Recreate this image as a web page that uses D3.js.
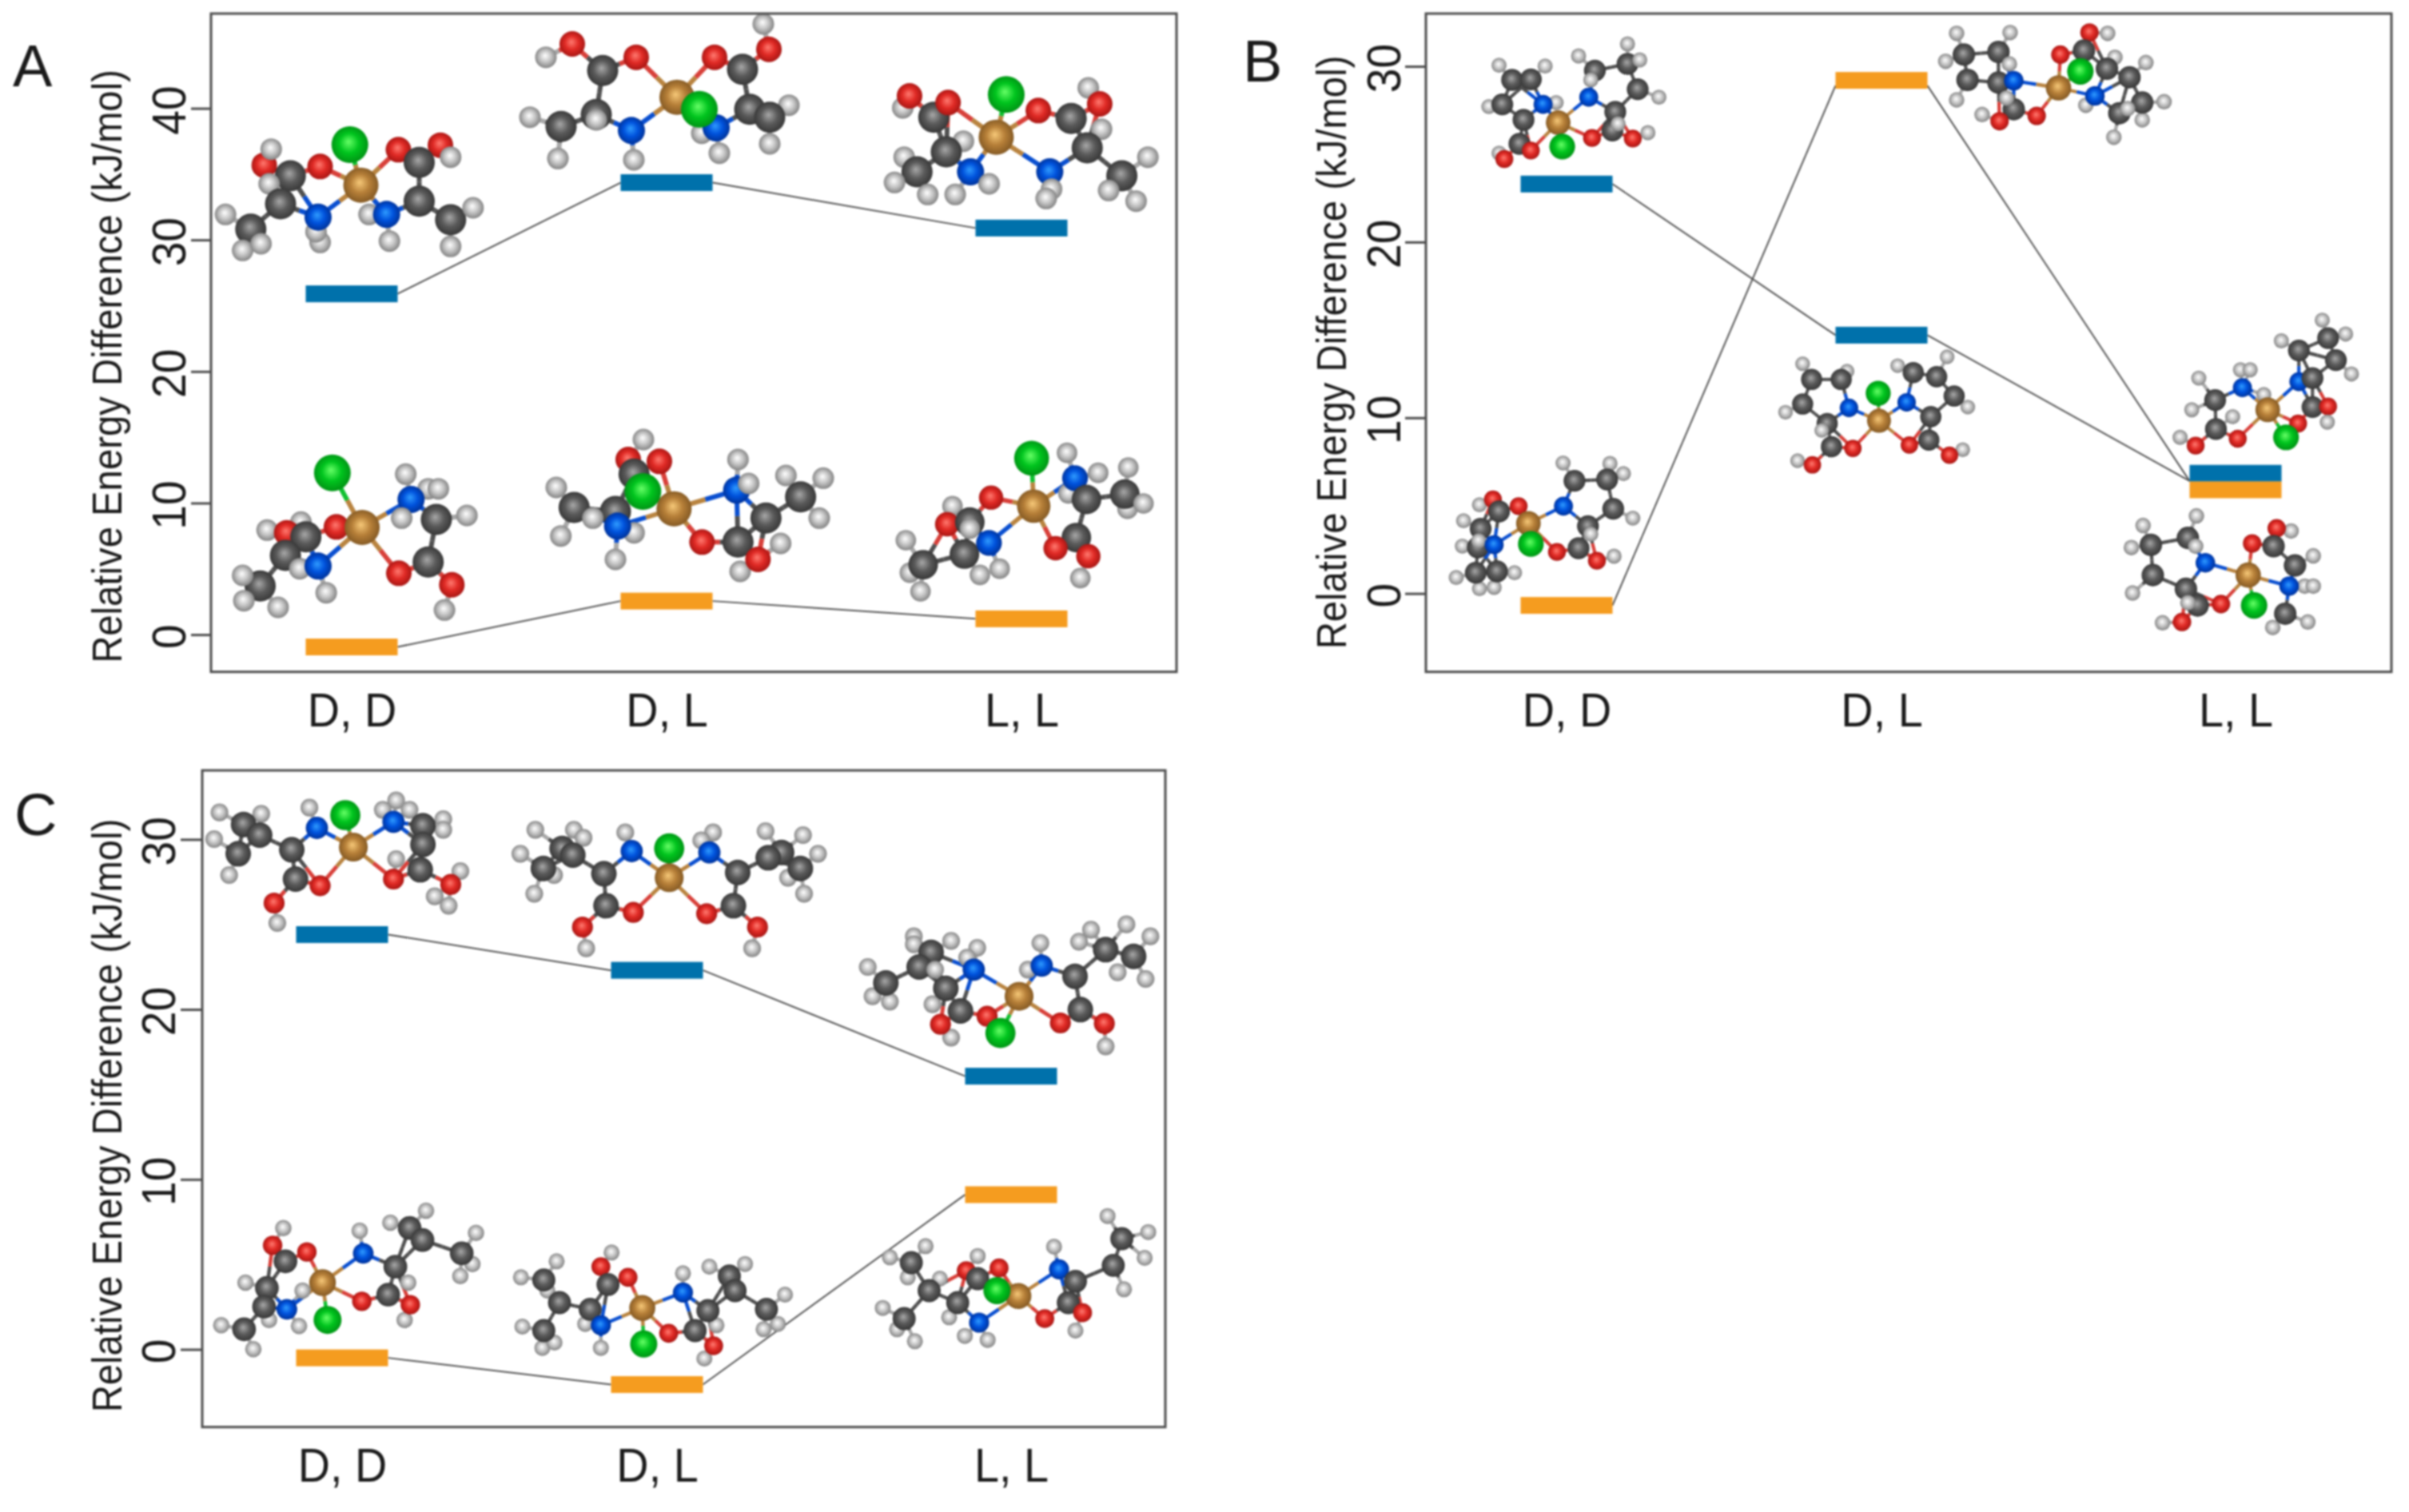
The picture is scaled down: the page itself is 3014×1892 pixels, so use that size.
<!DOCTYPE html>
<html><head><meta charset="utf-8">
<script src="https://cdn.jsdelivr.net/npm/d3@7"></script>
<style>html,body{margin:0;background:#fff}svg{display:block;filter:blur(0.8px)}text{font-family:"Liberation Sans",Arial,sans-serif;fill:#1a1a1a}</style>
</head><body><svg id="c" width="3014" height="1892"></svg>
<script>
// ---- values (kJ/mol) ----
const categories = ["D, D", "D, L", "L, L"];
const yTitle = "Relative Energy Difference (kJ/mol)";
const ticksA = [0, 10, 20, 30, 40];
const ticksB = [0, 10, 20, 30];
const ticksC = [0, 10, 20, 30];
const blueA = [25.9, 34.35, 30.9];
const orangeA = [-0.94, 2.55, 1.2];
const blueB = [23.3, 14.7, 6.84];
const orangeB = [-0.68, 29.2, 5.9];
const blueC = [24.4, 22.3, 16.07];
const orangeC = [-0.5, -2.07, 9.1];
// where the thin connectors of panel B really land on each level
const blueLinkB = [23.3, 14.7, 6.4];
const orangeLinkB = [-0.68, 28.9, 6.4];

// ---- layout ----
const layout = [
 {id:"A", l:264, t:17, r:1472, b:840.7, yDom:[-2.83,47.2], centres:[440,834,1278], ticks:ticksA, blue:blueA, orange:orangeA,
  titleX:152, titleY:458.5, tickBase:232, tickLen:25, letter:[16,108]},
 {id:"B", l:1784, t:17, r:2992, b:840.7, yDom:[-4.46,33], centres:[1960,2354,2797], ticks:ticksB, blue:blueB, orange:orangeB,
  blueLink:blueLinkB, orangeLink:orangeLinkB,
  titleX:1684, titleY:441, tickBase:1752, tickLen:26, letter:[1555,102]},
 {id:"C", l:253, t:964, r:1458, b:1785.7, yDom:[-4.57,34.06], centres:[428,822,1265], ticks:ticksC, blue:blueC, orange:orangeC,
  titleX:152, titleY:1396, tickBase:219, tickLen:27, letter:[18,1045]}
];
const barW = 115, barH = 21;
const blue = "#0071ab", orange = "#f59c1f";

// ---- molecule sketches: crop [x0,y0,sx,sy], atom size k, atoms back to front ----
const molecules = [
 {crop:[0,0,1.96,3],k:1,a:"O 648 620;H 665 560;C 712 660;H 660 690;C 688 765;O 785 625;O 977 562;O 1080 545;H 1105 590;C 1028 610;C 1028 755;H 553 805;C 615 860;H 595 940;H 640 915;H 785 910;H 775 870;N 780 815;H 905 805;N 948 805;H 955 905;C 1105 825;H 1160 780;H 1105 925;Cu 885 695;Cl 858 543"},
 {crop:[0,500,1.96,3],k:1,a:"H 995 280;H 1050 335;H 1075 335;N 1008 375;H 985 445;C 1070 450;H 1145 435;O 825 478;H 655 490;H 738 460;O 703 500;C 750 515;C 700 585;H 735 635;N 780 625;H 800 725;C 638 700;H 595 660;H 598 755;H 682 780;C 1050 610;O 978 652;O 1108 695;H 1090 790;Cu 888 480;Cl 815 275"},
 {crop:[0,0,1,3],k:1,a:"O 716 165;H 683 215;O 796 215;C 754 265;H 663 440;C 702 475;C 746 430;H 746 450;H 698 595;H 793 600;N 790 490;H 955 90;O 962 185;O 894 215;C 929 260;H 987 395;C 938 410;C 963 440;H 963 540;H 878 500;N 896 480;H 900 575;Cu 847 365;Cl 875 410"},
 {crop:[660,520,3,3],k:1,a:"H 435 90;O 378 165;C 400 220;O 495 172;H 108 270;C 175 345;C 330 360;H 245 385;H 125 452;Cu 550 350;Cl 433 285;H 400 440;N 338 415;H 330 540;H 790 165;N 785 280;H 830 255;H 970 225;H 1110 235;C 1025 305;H 1095 385;H 950 480;C 895 385;O 655 475;C 790 475;H 798 585;O 865 540"},
 {crop:[800,0,2.24,3],k:1,a:"H 738 405;O 757 360;C 825 440;O 865 385;H 1258 330;O 1290 390;O 1118 415;C 1210 445;H 1295 485;H 908 530;C 860 570;H 742 590;C 778 645;H 715 685;H 808 730;N 928 645;H 885 730;H 980 690;C 1255 555;N 1150 645;H 1155 710;H 1140 745;C 1352 660;H 1425 590;H 1315 715;H 1392 755;Cu 1000 515;Cl 1028 355"},
 {crop:[1090,530,3,3],k:.95,a:"H 305 310;O 285 378;C 370 370;H 370 395;O 450 278;H 130 438;H 145 560;C 195 530;H 185 630;C 350 490;H 408 568;H 482 545;N 442 448;H 735 110;H 740 262;H 852 185;N 765 205;C 808 285;H 965 165;H 962 320;C 952 265;H 1022 300;C 770 428;O 692 468;O 815 498;H 785 580;Cu 610 310;Cl 602 130"},

 {crop:[1600,0,1.96,3],k:.7,a:"H 540 245;H 653 248;C 572 300;C 618 298;H 735 210;H 855 165;C 775 265;C 855 240;H 885 225;H 515 400;C 548 392;C 880 335;H 932 365;H 680 385;N 648 392;N 760 365;C 825 420;C 600 450;H 765 300;C 590 540;C 818 490;H 832 465;O 618 565;H 540 575;O 553 597;O 768 518;O 868 520;H 905 498;Cu 685 460;Cl 695 550"},
 {crop:[1600,400,1.96,3],k:.7,a:"H 697 538;H 812 540;H 845 578;C 725 605;C 805 600;N 698 700;C 820 710;H 868 745;H 492 695;O 525 675;C 540 720;O 588 700;C 758 775;H 765 805;C 735 858;O 682 872;O 780 905;H 822 888;H 453 755;C 495 785;H 450 850;C 488 855;H 490 830;N 528 845;H 435 968;H 578 950;H 492 1010;H 528 1005;C 483 950;C 535 945;Cu 612 765;Cl 618 842"},
 {crop:[2300,0,2.196,3],k:.72,a:"H 325 125;H 472 122;C 345 205;C 440 195;H 295 230;H 325 375;C 355 300;H 470 240;C 440 310;N 482 303;H 740 125;O 690 122;O 610 205;C 675 190;H 845 235;H 760 215;C 738 258;C 800 290;H 680 395;N 705 360;H 895 382;H 835 450;C 835 385;H 757 515;C 772 425;H 795 408;H 395 430;C 482 410;H 462 368;O 545 435;O 443 455;Cu 605 330;Cl 665 268"},
 {crop:[2250,380,2.052,2.9],k:.68,a:"H 11 218;H 125 245;C 34 275;C 110 275;H -33 394;C 11 364;N 130 378;C 74 435;H 60 460;C 85 519;O 140 525;H -2 570;O 36 585;H 255 225;C 295 250;H 382 193;C 355 265;H 435 375;C 400 335;N 278 358;C 340 410;C 335 495;O 285 513;H 422 530;O 388 550;Cu 207 425;Cl 205 325"},
 {crop:[2250,380,2.052,2.9],k:.7,a:"H 1345 60;H 1240 135;H 1405 110;C 1285 170;C 1360 125;H 1420 255;C 1380 205;N 1285 283;H 1135 240;H 1160 240;H 1028 270;H 1010 385;C 1070 350;N 1140 305;H 1115 410;C 1320 270;H 1195 330;C 1320 375;O 1360 373;H 1358 430;O 1283 435;H 980 485;C 1072 455;O 1128 490;O 1020 515;Cu 1205 385;Cl 1252 485"},
 {crop:[2250,380,2.052,2.9],k:.72,a:"H 1022 770;H 885 805;H 855 885;C 1000 850;C 905 875;H 1020 880;N 1045 940;H 858 1050;C 910 985;C 995 1035;H 1265 825;O 1228 815;O 1165 870;C 1220 880;H 1322 915;C 1275 950;H 1300 1025;H 1322 1025;N 1260 1025;H 1218 1175;H 1308 1155;C 1250 1125;C 1025 1095;H 1000 1085;O 1085 1090;H 935 1158;O 985 1155;Cu 1155 985;Cl 1170 1095"},

 {crop:[0,950,1.493,3],k:.82,a:"H 410 200;H 488 205;H 400 300;C 455 245;C 485 285;C 445 355;H 428 435;H 578 182;N 592 258;H 740 155;H 715 190;H 765 190;N 735 235;H 828 225;H 828 265;C 790 250;C 790 320;C 545 340;H 740 375;C 785 415;C 552 450;O 598 475;O 735 450;H 860 420;H 812 515;H 838 550;O 842 470;H 518 615;O 512 540;Cu 660 330;Cl 645 210"},
 {crop:[0,950,1.493,3],k:.82,a:"H 1000 265;H 1072 265;H 1090 295;H 972 355;C 1050 335;C 1070 360;H 1035 435;H 998 505;C 1015 410;H 1168 275;N 1180 345;H 1332 275;H 1310 305;N 1325 350;C 1128 430;C 1378 425;H 1430 270;H 1500 285;C 1460 350;C 1435 370;H 1528 355;H 1472 445;H 1502 505;C 1495 410;C 1132 550;O 1183 575;C 1370 550;O 1320 580;H 1095 710;O 1088 630;H 1405 710;O 1415 630;Cu 1250 445;Cl 1250 335"},
 {crop:[1000,1100,3,3],k:.82,a:"H 430 215;H 430 245;H 570 232;C 495 275;C 450 330;H 257 330;H 668 258;H 510 340;H 630 295;N 655 340;H 275 440;H 340 460;C 325 390;H 500 470;C 550 410;H 905 240;H 858 340;N 910 325;H 1095 190;H 1050 235;H 1228 170;C 1150 265;H 1318 215;H 1195 350;H 1300 375;C 1255 290;C 1035 365;C 605 495;O 705 515;H 570 595;O 530 545;C 1055 490;O 980 540;H 1150 628;O 1145 542;Cu 825 440;Cl 755 578"},
 {crop:[100,1480,1.12,3],k:.76,a:"H 285 170;O 270 235;O 318 260;C 288 295;H 435 150;H 485 105;C 462 170;C 480 215;H 555 188;H 550 305;H 533 350;C 535 265;H 392 180;N 397 265;H 460 375;C 442 315;C 432 420;O 395 445;H 455 515;O 463 458;H 232 375;C 262 395;H 312 405;H 265 515;H 307 538;C 258 465;N 290 475;H 198 535;H 243 625;C 230 550;Cu 340 375;Cl 347 515"},
 {crop:[100,1480,1.12,3],k:.74,a:"H 745 262;O 730 315;O 768 355;C 740 382;H 668 295;H 618 355;H 655 405;C 650 365;C 672 450;H 620 540;H 648 620;H 665 600;C 650 555;H 708 530;C 715 475;H 845 340;N 845 412;H 882 315;H 932 305;C 910 350;C 918 405;H 988 420;H 978 530;H 958 550;C 962 475;H 892 535;C 880 480;H 730 620;N 730 535;C 862 555;O 825 565;H 875 660;O 888 612;Cu 788 470;Cl 790 605"},
 {crop:[100,1480,1.12,3],k:.74,a:"H 1185 238;H 1135 280;H 1160 355;C 1165 300;H 1205 360;C 1190 405;H 1125 470;H 1145 550;H 1170 595;C 1155 510;H 1218 505;C 1230 450;H 1240 575;H 1272 590;N 1260 525;H 1258 275;O 1242 330;O 1288 320;C 1258 360;H 1440 125;H 1497 185;H 1492 282;C 1460 210;C 1448 310;H 1463 400;H 1365 240;N 1372 325;C 1395 370;C 1385 450;H 1395 555;O 1352 510;O 1405 488;Cu 1315 425;Cl 1285 405"}
];

const radius = {Cu:22, Cl:23, O:16, C:19.5, N:17, H:13.5};
const shade = {
 Cu:["#f6c878","#b67f38","#7a5220"], Cl:["#66ff66","#00c41e","#008a12"], O:["#ff7a70","#e02a25","#9c1210"],
 N:["#2f9bff","#0052dc","#002c8c"], C:["#a8a8a8","#5a5a5a","#303030"], H:["#ffffff","#c4c4c4","#757575"]
};
const bondColour = {Cu:"#b98440", Cl:"#10c030", O:"#d8403a", N:"#0a4fd0", C:"#505050", H:"#a8a8a8"};

const svg = d3.select("#c");
const defs = svg.append("defs");
Object.entries(shade).forEach(([el, stops]) => {
  const g = defs.append("radialGradient").attr("id", "g" + el)
    .attr("cx", "50%").attr("cy", "50%").attr("r", "56%").attr("fx", "46%").attr("fy", "42%");
  g.append("stop").attr("offset", "0%").attr("stop-color", stops[0]);
  g.append("stop").attr("offset", "48%").attr("stop-color", stops[1]);
  g.append("stop").attr("offset", "100%").attr("stop-color", stops[2]);
});

function drawMolecule(parent, m) {
  const [x0, y0, sx, sy] = m.crop;
  const px = d3.scaleLinear().domain([0, sx]).range([x0, x0 + 1]);
  const py = d3.scaleLinear().domain([0, sy]).range([y0, y0 + 1]);
  const atoms = m.a.split(";").map(s => {
    const [el, x, y] = s.trim().split(" ");
    return {el, x: px(+x), y: py(+y)};
  });
  const dist = (a, b) => Math.hypot(a.x - b.x, a.y - b.y);
  const bonds = [];
  const heavy = atoms.filter(a => a.el === "C" || a.el === "N" || a.el === "O");
  const cu = atoms.find(a => a.el === "Cu");
  atoms.filter(a => a.el === "H").forEach(h => {
    const near = d3.least(heavy, a => dist(a, h));
    if (near) bonds.push([h, near]);
  });
  ["Cl", "N", "O"].forEach((el, i) => {
    atoms.filter(a => a.el === el).sort((a, b) => dist(a, cu) - dist(b, cu)).slice(0, i ? 2 : 1)
      .forEach(a => bonds.push([cu, a]));
  });
  const reach = (m.k < 0.9 ? 72 : 66) * m.k;
  heavy.forEach((a, i) => heavy.slice(i + 1).forEach(b => {
    const hasC = a.el === "C" || b.el === "C";
    if (hasC && dist(a, b) < reach) bonds.push([a, b]);
  }));
  const g = parent.append("g");
  bonds.forEach(([a, b]) => {
    const mx = (a.x + b.x) / 2, my = (a.y + b.y) / 2;
    [[a, mx, my], [b, mx, my]].forEach(([p, x, y]) => {
      g.append("line").attr("x1", p.x).attr("y1", p.y).attr("x2", x).attr("y2", y)
        .attr("stroke", bondColour[p.el]).attr("stroke-width", 6 * m.k);
    });
  });
  g.selectAll("circle").data(atoms).join("circle")
    .attr("cx", d => d.x).attr("cy", d => d.y)
    .attr("r", d => radius[d.el] * m.k)
    .attr("fill", d => `url(#g${d.el})`);
}

layout.forEach((p, pi) => {
  const x = d3.scaleOrdinal().domain(categories).range(p.centres);
  const y = d3.scaleLinear().domain(p.yDom).range([p.b, p.t]);
  const g = svg.append("g").attr("class", "panel");

  // connectors
  const link = d3.line().x(d => d[0]).y(d => d[1]);
  [[p.blue, p.blueLink], [p.orange, p.orangeLink]].forEach(([vals, lk]) => {
    const ys = lk || vals;
    for (let i = 0; i < categories.length - 1; i++) {
      g.append("path")
        .attr("d", link([[x(categories[i]) + barW / 2, y(ys[i])], [x(categories[i + 1]) - barW / 2, y(ys[i + 1])]]))
        .attr("fill", "none").attr("stroke", "#555").attr("stroke-width", 2);
    }
  });

  // molecules
  molecules.slice(pi * 6, pi * 6 + 6).forEach(m => drawMolecule(g, m));

  // level bars
  [[p.blue, blue], [p.orange, orange]].forEach(([vals, col]) => {
    g.selectAll(null).data(vals).join("rect")
      .attr("x", (d, i) => x(categories[i]) - barW / 2)
      .attr("y", d => y(d) - barH / 2)
      .attr("width", barW).attr("height", barH).attr("fill", col);
  });

  // frame
  g.append("rect").attr("x", p.l).attr("y", p.t).attr("width", p.r - p.l).attr("height", p.b - p.t)
    .attr("fill", "none").attr("stroke", "#4d4d4d").attr("stroke-width", 3);

  // y axis
  const ya = g.append("g").attr("transform", `translate(${p.l},0)`)
    .call(d3.axisLeft(y).tickValues(p.ticks).tickSize(p.tickLen).tickSizeOuter(0));
  ya.select(".domain").remove();
  ya.selectAll(".tick line").attr("stroke", "#4d4d4d").attr("stroke-width", 3);
  ya.selectAll(".tick text")
    .attr("x", null).attr("dy", null).attr("y", null)
    .attr("text-anchor", "middle").attr("font-size", 60)
    .attr("transform", `translate(${p.tickBase - p.l},2) rotate(-90) scale(0.92,1)`)
    .style("font-family", '"Liberation Sans"').style("fill", "#1a1a1a");

  // x axis
  const xa = g.append("g").attr("transform", `translate(0,${p.b})`)
    .call(d3.axisBottom(x).tickSize(0));
  xa.select(".domain").remove();
  xa.selectAll(".tick line").remove();
  xa.selectAll(".tick text").attr("y", null).attr("dy", null)
    .attr("transform", "translate(0,68.5) scale(0.93,1)")
    .attr("font-size", 60).style("font-family", '"Liberation Sans"').style("fill", "#1a1a1a");

  // y title
  const title = g.append("text").attr("text-anchor", "middle")
    .attr("font-size", 52).text(yTitle);
  title.attr("transform", `translate(${p.titleX},${p.titleY}) rotate(-90) scale(${743 / title.node().getComputedTextLength()},1)`);

  // panel letter
  g.append("text").attr("x", p.letter[0]).attr("y", p.letter[1]).attr("font-size", 74).text(p.id);
});
</script></body></html>
